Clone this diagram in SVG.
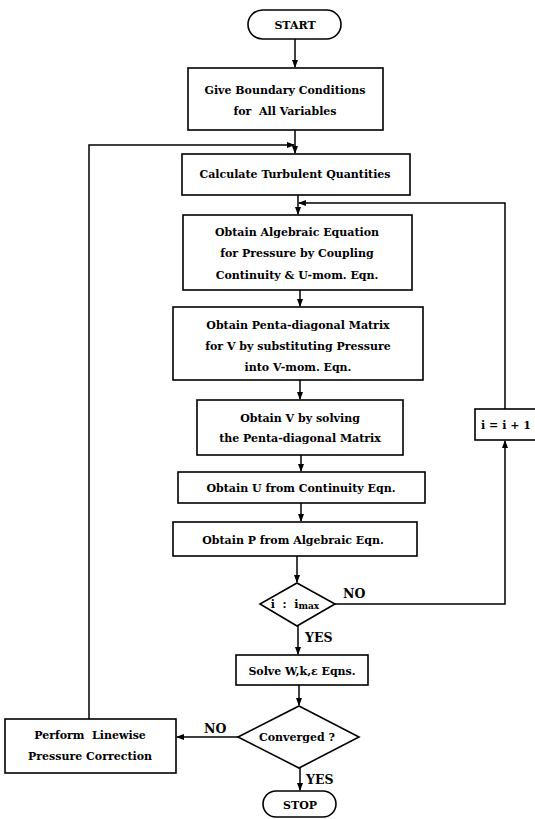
<svg xmlns="http://www.w3.org/2000/svg" width="535" height="819" viewBox="0 0 535 819">
<defs>
<marker id="ah" markerWidth="8" markerHeight="6" refX="7" refY="3" orient="auto" markerUnits="userSpaceOnUse">
<path d="M0,0 L8,3 L0,6 Z" fill="#000"/>
</marker>
<style>
.b{fill:#fff;stroke:#000;stroke-width:1.6}
.t{font-family:"DejaVu Serif","Liberation Serif",serif;font-size:11px;font-weight:bold;fill:#000;text-anchor:middle;dominant-baseline:central;white-space:pre}
.l{font-family:"DejaVu Serif","Liberation Serif",serif;font-size:12.5px;font-weight:bold;fill:#000}
.c{fill:none;stroke:#000;stroke-width:1.5}
</style>
</defs>
<rect width="535" height="819" fill="#fff"/>
<g id="connectors">
<path class="c" d="M295,39 V67" marker-end="url(#ah)"/>
<path class="c" d="M295,130 V153" marker-end="url(#ah)"/>
<path class="c" d="M89,719 V145 H294" marker-end="url(#ah)"/>
<path class="c" d="M298,195 V214" marker-end="url(#ah)"/>
<path class="c" d="M505,409 V203 H299" marker-end="url(#ah)"/>
<path class="c" d="M300,290 V306" marker-end="url(#ah)"/>
<path class="c" d="M300,380 V399" marker-end="url(#ah)"/>
<path class="c" d="M301,455 V471" marker-end="url(#ah)"/>
<path class="c" d="M301,503 V521" marker-end="url(#ah)"/>
<path class="c" d="M297,556 V582" marker-end="url(#ah)"/>
<path class="c" d="M335,604 H505 V441" marker-end="url(#ah)"/>
<path class="c" d="M298,626 V654" marker-end="url(#ah)"/>
<path class="c" d="M299,685 V705" marker-end="url(#ah)"/>
<path class="c" d="M238,737 H177" marker-end="url(#ah)"/>
<path class="c" d="M300,768 V790" marker-end="url(#ah)"/>
<text class="l" x="343" y="598">NO</text>
<text class="l" x="305" y="642">YES</text>
<text class="l" x="204" y="733">NO</text>
<text class="l" x="306" y="784">YES</text>
</g>
<g id="start">
<rect class="b" x="248" y="10" width="93" height="29" rx="14.5"/>
<text class="t" x="295" y="25">START</text>
</g>
<g id="give">
<rect class="b" x="188" y="68" width="195" height="62"/>
<text class="t" x="285" y="90">Give Boundary Conditions</text>
<text class="t" x="285" y="111">for  All Variables</text>
</g>
<g id="calc">
<rect class="b" x="182" y="154" width="228" height="41"/>
<text class="t" x="295" y="174">Calculate Turbulent Quantities</text>
</g>
<g id="algebraic">
<rect class="b" x="183" y="215" width="229" height="75"/>
<text class="t" x="297" y="232">Obtain Algebraic Equation</text>
<text class="t" x="297" y="253">for Pressure by Coupling</text>
<text class="t" x="297" y="275">Continuity &amp; U-mom. Eqn.</text>
</g>
<g id="penta">
<rect class="b" x="173" y="307" width="250" height="73"/>
<text class="t" x="298" y="325">Obtain Penta-diagonal Matrix</text>
<text class="t" x="298" y="346">for V by substituting Pressure</text>
<text class="t" x="298" y="367">into V-mom. Eqn.</text>
</g>
<g id="solveV">
<rect class="b" x="197" y="400" width="206" height="55"/>
<text class="t" x="300" y="418">Obtain V by solving</text>
<text class="t" x="300" y="438">the Penta-diagonal Matrix</text>
</g>
<g id="obtainU">
<rect class="b" x="178" y="472" width="247" height="31"/>
<text class="t" x="301" y="488">Obtain U from Continuity Eqn.</text>
</g>
<g id="obtainP">
<rect class="b" x="173" y="522" width="244" height="34"/>
<text class="t" x="293" y="540">Obtain P from Algebraic Eqn.</text>
</g>
<g id="incr">
<rect class="b" x="475" y="409" width="62" height="31"/>
<text class="t" x="506" y="425">i = i + 1</text>
</g>
<g id="imax">
<polygon class="b" points="297,583 335,604 297,626 260,604"/>
<text class="t" x="295" y="604">i  :  i<tspan font-size="9px" dy="2">max</tspan></text>
</g>
<g id="solveW">
<rect class="b" x="236" y="655" width="132" height="30"/>
<text class="t" x="302" y="671">Solve W,k,ε Eqns.</text>
</g>
<g id="converged">
<polygon class="b" points="299,706 359,737 299,768 238,737"/>
<text class="t" x="297" y="737">Converged ?</text>
</g>
<g id="perform">
<rect class="b" x="5" y="719" width="171" height="54"/>
<text class="t" x="90" y="735">Perform  Linewise</text>
<text class="t" x="90" y="756">Pressure Correction</text>
</g>
<g id="stop">
<rect class="b" x="263" y="791" width="73" height="26" rx="13"/>
<text class="t" x="300" y="805">STOP</text>
</g>
</svg>
